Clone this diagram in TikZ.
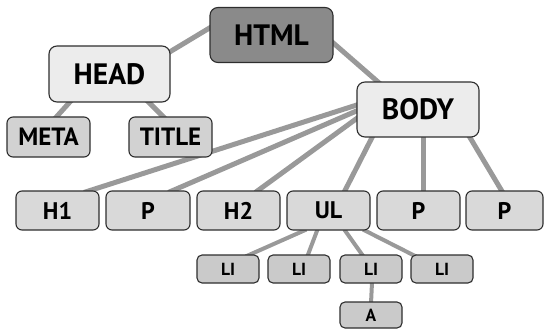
\documentclass[tikz,border=0pt]{standalone}
\usepackage{fontspec}
\setmainfont{PT Sans}
\usetikzlibrary{backgrounds,calc}
\definecolor{linkgray}{HTML}{999999}
\definecolor{rootfill}{HTML}{8A8A8A}
\definecolor{topfill}{HTML}{ECECEC}
\definecolor{midfill}{HTML}{D9D9D9}
\definecolor{headkid}{HTML}{D2D2D2}
\definecolor{leaffill}{HTML}{CACACA}
\definecolor{rim}{HTML}{2E2E2E}
\begin{document}
\begin{tikzpicture}[x=1pt,y=-1pt,
  box/.style={draw=rim, line width=1.1pt, inner sep=0pt, text=black},
  bigbox/.style={box, rounded corners=8pt, minimum height=55pt,
    font=\bfseries\fontsize{29.5}{31}\selectfont},
  headbox/.style={box, rounded corners=6pt, minimum width=83pt, minimum height=40pt,
    fill=headkid, font=\bfseries\fontsize{25}{27}\selectfont},
  rowbox/.style={box, rounded corners=6pt, minimum width=83pt, minimum height=39pt,
    fill=midfill, font=\bfseries\fontsize{24}{26}\selectfont},
  leafbox/.style={box, rounded corners=5pt, minimum width=62pt, minimum height=28pt,
    fill=leaffill, font=\bfseries\fontsize{17.5}{19}\selectfont},
  link/.style={draw=linkgray, line width=5pt},
  thinlink/.style={draw=linkgray, line width=4pt}]
\useasboundingbox (0,0) rectangle (544,329);

% top levels
\node[bigbox, fill=rootfill, minimum width=123pt] (html) at (271.5,35) {HTML};
\node[bigbox, fill=topfill, minimum width=121pt, minimum height=56pt] (head) at (109.5,74) {HEAD};
\node[bigbox, fill=topfill, minimum width=122pt] (body) at (418,109.5) {BODY};

% children of HEAD
\node[headbox] (meta) at (48.5,137) {META};
\node[headbox] (title) at (170.5,137) {TITLE};

% children of BODY
\node[rowbox] (h1) at (57.5,210.5) {H1};
\node[rowbox, minimum width=84pt] (p1) at (148,210.5) {P};
\node[rowbox] (h2) at (238.5,210.5) {H2};
\node[rowbox] (ul) at (328.5,210.5) {UL};
\node[rowbox] (p2) at (418.5,210.5) {P};
\node[rowbox, minimum width=77pt] (p3) at (504.5,210.5) {P};

% list items
\node[leafbox] (li1) at (228,269) {LI};
\node[leafbox] (li2) at (299,269) {LI};
\node[leafbox] (li3) at (371,269) {LI};
\node[leafbox] (li4) at (442,269) {LI};
\node[leafbox, minimum height=26pt] (a) at (371,315) {A};

% connectors, kept behind the boxes
\begin{pgfonlayer}{background}
  \draw[link] ($(head.north east)+(-5,9)$) -- ($(html.west)+(10,-13)$);
  \draw[link] ($(html.east)+(-6,3)$) -- ($(body.north)+(-36,4)$);
  \draw[link] ($(head.south)+(-36.5,-4)$) -- ($(meta.north)+(6.5,2)$);
  \draw[link] ($(head.south)+(35.5,-4)$) -- ($(title.north)+(-5.5,2)$);

  \draw[link] ($(body.west)+(5,-6)$) -- ($(h1.north)+(26.5,2)$);
  \draw[link] ($(body.west)+(5,-0.7)$) -- ($(p1.north)+(20.4,2)$);
  \draw[link] ($(body.west)+(6,4.8)$) -- ($(h2.north)+(16.8,2)$);
  \draw[link] ($(body.south)+(-44,-4)$) -- ($(ul.north)+(15.5,2)$);
  \draw[link] ($(body.south)+(5,-4)$) -- ($(p2.north)+(4.5,2)$);
  \draw[link] ($(body.south)+(49.6,-4)$) -- ($(p3.north)+(-1.8,2)$);

  \draw[thinlink] ($(ul.south)+(-22.2,-1)$) -- ($(li1.north)+(17.7,2)$);
  \draw[thinlink] ($(ul.south)+(-11,-1)$) -- ($(li2.north)+(8.3,2)$);
  \draw[thinlink] ($(ul.south)+(15.8,-1)$) -- ($(li3.north)+(-7.6,2)$);
  \draw[thinlink] ($(ul.south)+(34.5,-1)$) -- ($(li4.north)+(-26,2)$);
  \draw[thinlink] ($(li3.south)+(1,-1)$) -- ($(a.north)+(0,2)$);
\end{pgfonlayer}
\end{tikzpicture}
\end{document}
